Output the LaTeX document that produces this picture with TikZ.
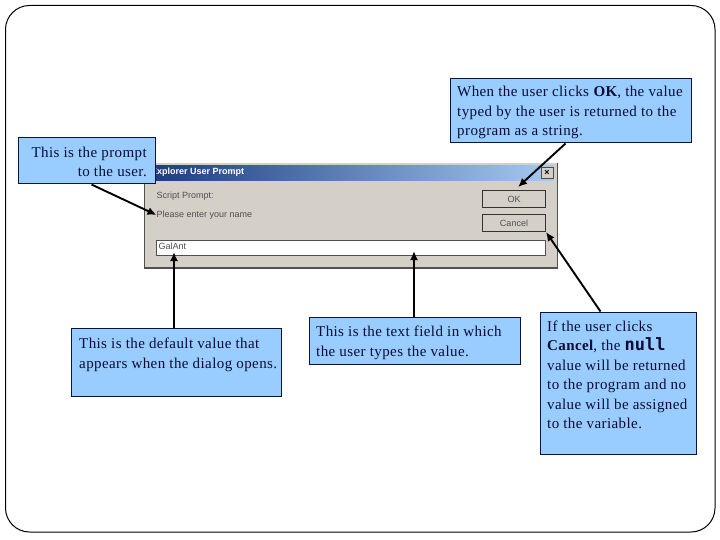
\documentclass[tikz,border=0pt]{standalone}
\usepackage{fontspec}
\setmainfont{Liberation Serif}[LetterSpace=2.7]
\newfontfamily\dlgfont{Liberation Sans}
\newfontfamily\codefont{DejaVu Sans Mono}
\definecolor{boxblue}{HTML}{99CCFF}
\definecolor{boxline}{HTML}{0A1440}
\definecolor{inktext}{HTML}{0C0C34}
\definecolor{dlggrey}{HTML}{D4D0C8}
\definecolor{dlgdark}{HTML}{505050}
\definecolor{titledark}{HTML}{1A3A80}
\definecolor{titlelight}{HTML}{A6CAF0}
\usetikzlibrary{arrows.meta}
\tikzset{
  x=1pt,y=-1pt,
  callout/.style={draw=boxline,line width=1pt,fill=boxblue,inner sep=0pt,anchor=north west},
  callouttext/.style={inner sep=0pt,text=inktext,font=\fontsize{15}{19.5}\selectfont,anchor=north west},
  arr/.style={draw=black,line width=1.9pt,-{Latex[length=9pt,width=8pt]}},
  dlgtext/.style={inner sep=0pt,text=dlgdark,font=\dlgfont\fontsize{9}{11}\selectfont},
  btn/.style={draw=black!80,line width=1pt,fill=dlggrey,inner sep=0pt,minimum width=63pt,minimum height=17pt,font=\dlgfont\fontsize{9}{11}\selectfont,text=dlgdark,anchor=north west},
}
\begin{document}
\begin{tikzpicture}
\useasboundingbox (0,0) rectangle (720,540);
\fill[white] (0,0) rectangle (720,540);
\draw[black,line width=1pt,rounded corners=24pt] (5.5,5.5) rectangle (715,532);
% dialog
\node[draw=none,fill=dlgdark,inner sep=0pt,minimum width=414pt,minimum height=106pt,anchor=north west] (dshadow) at (144,162.5) {};
\node[draw=none,fill=dlggrey,inner sep=0pt,minimum width=412pt,minimum height=104pt,anchor=north west] (dialog) at (144.5,163) {};
\node[inner sep=0pt,minimum width=407pt,minimum height=15pt,anchor=north west,left color=titledark,right color=titlelight,draw=none] (titlebar) at (146.5,165) {};
\node[anchor=west,inner sep=0pt,text=white,font=\dlgfont\bfseries\fontsize{9}{11}\selectfont] (titletext) at (151,172.5) {Explorer User Prompt};
\node[draw=black!70,line width=.6pt,fill=dlggrey,inner sep=0pt,minimum width=12pt,minimum height=11pt,font=\dlgfont\bfseries\fontsize{9}{9}\selectfont] (closebtn) at (547,172.5) {×};
\node[dlgtext,anchor=west] (scriptlabel) at (156.5,196) {Script Prompt:};
\node[dlgtext,anchor=west] (enterlabel) at (156.5,215) {Please enter your name};
\node[draw=dlgdark,line width=.8pt,fill=white,inner sep=0pt,minimum width=389pt,minimum height=15pt,anchor=north west] (field) at (156,239.5) {};
\node[dlgtext,anchor=west] (fieldtext) at (158.5,246) {GalAnt};
\node[btn] (okbtn) at (482,190.5) {OK};
\node[btn] (cancelbtn) at (482,214) {Cancel};
% callouts
\node[callout,minimum width=137pt,minimum height=46pt] (promptbox) at (17.5,137.5) {};
\node[callouttext,align=right,anchor=north east] (prompttext) at (147,146.5) {This is the prompt\\to the user.};
\node[callout,minimum width=241pt,minimum height=64pt] (okbox) at (449.5,78.5) {};
\node[callouttext,align=left] (oktext) at (457,86) {When the user clicks \textbf{OK}, the value\\typed by the user is returned to the\\program as a string.};
\node[callout,minimum width=210pt,minimum height=68pt] (defbox) at (70.5,327.5) {};
\node[callouttext,align=left] (deftext) at (79,338) {This is the default value that\\appears when the dialog opens.};
\node[callout,minimum width=211pt,minimum height=47pt] (fieldbox) at (308.5,316.5) {};
\node[callouttext,align=left] (fieldboxtext) at (316,326) {This is the text field in which\\the user types the value.};
\node[callout,minimum width=156pt,minimum height=142pt] (cancelbox) at (539.5,311.5) {};
\node[callouttext,align=left] (canceltext) at (547,320.5) {If the user clicks\\\textbf{Cancel}, the {\codefont\bfseries\fontsize{17}{19.5}\selectfont null}\\value will be returned\\to the program and no\\value will be assigned\\to the variable.};
% arrows
\coordinate (oktip) at (518,187);
\draw[arr] (promptbox.south west) ++(74,0) -- (enterlabel.west);
\draw[arr] (okbox.south west) ++(116,0) -- (oktip);
\draw[arr] (cancelbox.north west) ++(61,0) -- (cancelbtn.south east);
\draw[arr] (defbox.north west) ++(103.5,0) -- (174,252);
\draw[arr] (fieldbox.north west) ++(105.5,0) -- (414,251);
\end{tikzpicture}
\end{document}
